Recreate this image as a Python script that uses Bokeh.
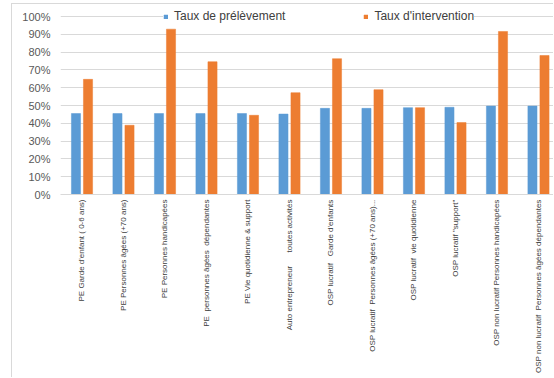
from bokeh.plotting import figure
from bokeh.models import Range1d, FixedTicker, Legend, LegendItem
from bokeh.embed import file_html
from bokeh.resources import INLINE
import math

NB = "\u00a0"
categories = [
    "PE Garde d'enfant ( 0-6 ans)",
    "PE Personnes âgées (+70 ans)",
    "PE Personnes handicapées",
    "PE " + NB + "personnes âgées " + NB + "dépendantes",
    "PE Vie quotidienne & support",
    "Auto entrepreneur " + NB * 5 + "toutes activités",
    "OSP lucratif " + NB * 2 + "Garde d'enfants",
    "OSP lucratif " + NB + "Personnes âgées (+70 ans)...",
    "OSP lucratif " + NB + "vie quotidienne",
    "OSP lucratif \"support\"",
    "OSP non lucratif Personnes handicapées",
    "OSP non lucratif " + NB + "Personnes âgées dépendantes",
]
taux_prelevement = [45.5, 45.5, 45.5, 45.5, 45.5, 45.2, 48.4, 48.4, 48.8, 49.0, 49.7, 49.7]
taux_intervention = [64.7, 38.9, 92.9, 74.6, 44.5, 57.2, 76.3, 58.9, 48.8, 40.4, 91.6, 78.1]
y_ticks = list(range(0, 101, 10))

idx = list(range(len(categories)))

p = figure(width=542, height=374, output_backend="svg", toolbar_location=None,
           x_range=Range1d(-0.518, 11.386), y_range=Range1d(0, 106.2),
           min_border_left=48, min_border_right=0, min_border_top=1, min_border_bottom=184)
p.margin = (3, 0, 0, 11)
p.styles = {"border-left": "1px solid #d9d9d9", "border-top": "1px solid #d9d9d9"}
p.outline_line_color = None
p.background_fill_color = "white"
p.border_fill_color = "white"

r1 = p.vbar(x=[i - 0.145 for i in idx], top=taux_prelevement, width=0.22,
            fill_color="#5B9BD5", line_color="#5B9BD5", line_width=0.5)
r2 = p.vbar(x=[i + 0.145 for i in idx], top=taux_intervention, width=0.22,
            fill_color="#ED7D31", line_color="#ED7D31", line_width=0.5)

p.xgrid.grid_line_color = None
p.ygrid.grid_line_color = "#d9d9d9"
p.ygrid.ticker = FixedTicker(ticks=y_ticks)

p.yaxis.ticker = FixedTicker(ticks=y_ticks)
p.yaxis.major_label_overrides = {t: f"{t}%" for t in y_ticks}
p.yaxis.axis_line_color = None
p.yaxis.major_tick_line_color = None
p.yaxis.minor_tick_line_color = None
p.yaxis.major_tick_out = 0
p.yaxis.major_label_standoff = 10
p.yaxis.major_label_text_font = "Liberation Sans"
p.yaxis.major_label_text_font_size = "11px"
p.yaxis.major_label_text_color = "#595959"

p.xaxis.ticker = FixedTicker(ticks=idx)
p.xaxis.major_label_overrides = {i: c for i, c in zip(idx, categories)}
p.xaxis.major_label_orientation = math.pi / 2
p.xaxis.axis_line_color = "#d9d9d9"
p.xaxis.major_tick_line_color = None
p.xaxis.minor_tick_line_color = None
p.xaxis.major_tick_out = 0
p.xaxis.major_label_standoff = 5
p.xaxis.major_label_text_font = "Liberation Sans"
p.xaxis.major_label_text_font_size = "8px"
p.xaxis.major_label_text_color = "#404040"

legend = Legend(items=[LegendItem(label="Taux de prélèvement", renderers=[r1]),
                       LegendItem(label="Taux d'intervention", renderers=[r2])],
                orientation="horizontal", location=(103, 171),
                glyph_width=5, glyph_height=5, label_standoff=6, spacing=78,
                padding=0, margin=0, label_height=12,
                label_text_font="Liberation Sans", label_text_font_size="12px",
                label_text_color="#404040", border_line_color=None,
                background_fill_color="white", background_fill_alpha=1.0)
p.add_layout(legend, "center")

open("out.html", "w").write(file_html(p, INLINE))
